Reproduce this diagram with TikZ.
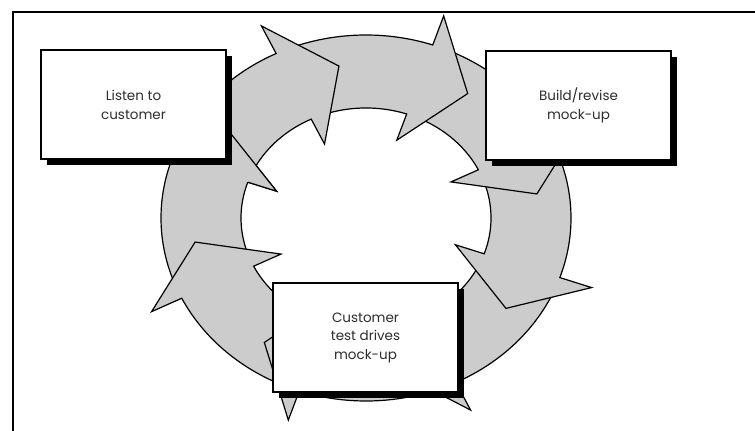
\documentclass[tikz,border=0pt]{standalone}
\usepackage{fontspec}
\setmainfont{Poppins}
\usetikzlibrary{shadows}
\definecolor{ringgray}{RGB}{204,204,204}
\definecolor{txtgray}{RGB}{45,45,45}
\tikzset{
  ringline/.style={draw=black,line width=1.2pt,line join=miter},
  ringarrow/.style={ringline,fill=ringgray},
  stepbox/.style={draw=black,fill=white,line width=2pt,minimum width=185,minimum height=109,
    align=center,text=txtgray,font=\fontsize{13.5}{18.5}\selectfont,
    drop shadow={shadow xshift=6pt,shadow yshift=-6pt,fill=black,opacity=1}},
  frameline/.style={draw=black,line width=1.5pt}
}
\newcommand\RingArrow[1]{%
  \pgfmathsetmacro\aE{#1}%
  \pgfmathsetmacro\aS{#1+41}%
  \pgfmathsetmacro\aT{#1-17}%
  \filldraw[ringarrow] plot[domain=\aS:\aE,samples=40] ({366+205*cos(\x)},{213+183*sin(\x)})
    -- ({366+238.6*cos(\aE)},{213+213.7*sin(\aE)})
    -- ({366+173*cos(\aT)},{213+153.8*sin(\aT)})
    -- ({366+94.6*cos(\aE)},{213+82.3*sin(\aE)})
    -- plot[domain=\aE:\aS,samples=40] ({366+125*cos(\x)},{213+110*sin(\x)})
    -- cycle;}
\newcommand\RingHead[1]{%
  \pgfmathsetmacro\aE{#1}%
  \pgfmathsetmacro\aT{#1-17}%
  \fill[ringgray] ({366+205*cos(\aE)},{213+183*sin(\aE)})
    -- ({366+238.6*cos(\aE)},{213+213.7*sin(\aE)})
    -- ({366+173*cos(\aT)},{213+153.8*sin(\aT)})
    -- ({366+94.6*cos(\aE)},{213+82.3*sin(\aE)})
    -- ({366+125*cos(\aE)},{213+110*sin(\aE)}) -- cycle;
  \draw[ringline] ({366+205*cos(\aE)},{213+183*sin(\aE)})
    -- ({366+238.6*cos(\aE)},{213+213.7*sin(\aE)})
    -- ({366+173*cos(\aT)},{213+153.8*sin(\aT)})
    -- ({366+94.6*cos(\aE)},{213+82.3*sin(\aE)})
    -- ({366+125*cos(\aE)},{213+110*sin(\aE)});}
\begin{document}
\begin{tikzpicture}[x=1pt,y=1pt]
\useasboundingbox (0,0) rectangle (755,431);
% frame
\coordinate (ftl) at (13,419);
\coordinate (ftr) at (755,419);
\coordinate (fbl) at (13,0);
\draw[frameline] (fbl) -- (ftl) -- (ftr);
% ring of arrows
\RingArrow{-199}
\RingArrow{-154}
\RingArrow{-109}
\RingArrow{-64}
\RingArrow{-19}
\RingArrow{26}
\RingArrow{71}
\RingArrow{116}
\RingHead{161}
% boxes
\node[stepbox] (listen) at (133.5,326) {Listen to\\customer};
\node[stepbox] (build) at (578.5,325.5) {Build/revise\\mock-up};
\node[stepbox] (test) at (365.5,93.5) {Customer\\test drives\\mock-up};
\end{tikzpicture}
\end{document}
